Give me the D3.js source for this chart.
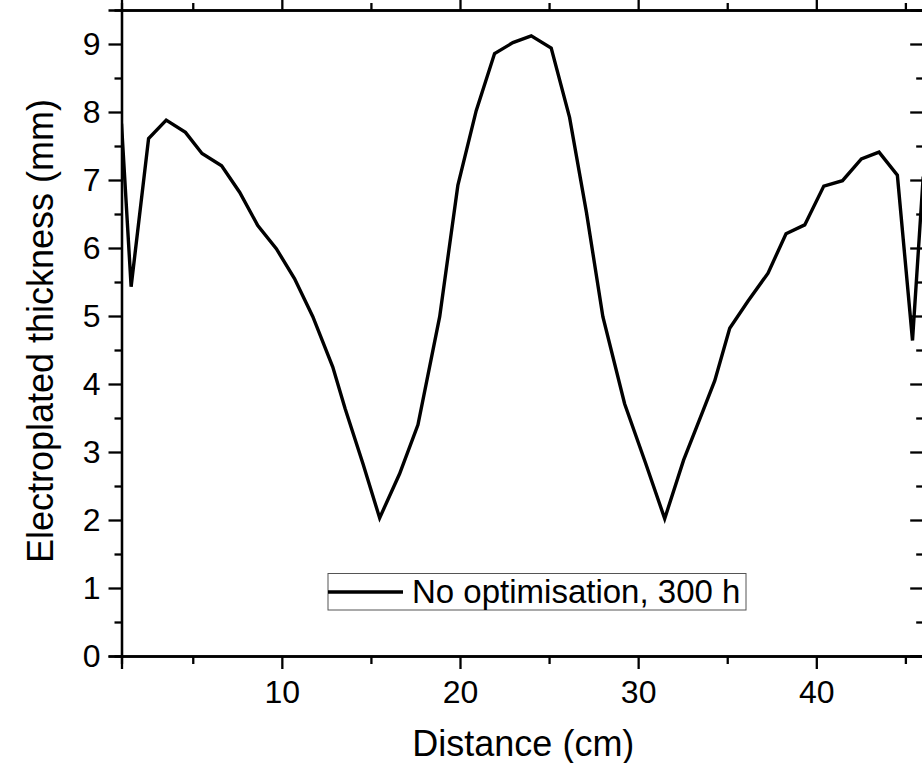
<!DOCTYPE html>
<html>
<head>
<meta charset="utf-8" />
<title></title>
<style>
html, body {
    margin: 0;
    padding: 0;
    background: #fff;
}
svg text {
    font-family: "Liberation Sans", Arial, sans-serif;
    fill: #000;
}
.axis path, .axis line {
    stroke: #000;
    stroke-width: 2.3;
}
</style>
</head>

<body>
<div id="chart"></div>
<script src="https://cdnjs.cloudflare.com/ajax/libs/d3/7.8.5/d3.min.js"></script>
<script>
// distance along the part (cm) and plated thickness (mm)
var distance = [1.0, 1.54, 2.52, 3.51, 4.59, 5.52, 6.62, 7.63, 8.65, 9.69,
    10.71, 11.74, 12.86, 13.55, 14.55, 15.49, 16.61, 17.64, 18.86, 19.88,
    20.91, 21.94, 22.97, 24.0, 25.12, 26.15, 27.1, 28.02, 29.24, 30.4,
    31.49, 32.55, 33.6, 34.3, 35.14, 36.17, 37.29, 38.3, 39.35, 40.42,
    41.47, 42.53, 43.52, 44.55, 45.4, 46.0]
var thickness = [7.83, 5.43, 7.61, 7.88, 7.70, 7.39, 7.21, 6.82, 6.33, 5.99,
    5.55, 4.99, 4.25, 3.64, 2.83, 2.03, 2.68, 3.40, 4.99, 6.92,
    8.02, 8.86, 9.02, 9.12, 8.94, 7.92, 6.52, 4.99, 3.71, 2.85,
    2.02, 2.88, 3.58, 4.05, 4.82, 5.22, 5.63, 6.21, 6.34, 6.91,
    6.99, 7.31, 7.41, 7.07, 4.64, 7.05]

var seriesName = "No optimisation, 300 h"
var xTitle = "Distance (cm)"
var yTitle = "Electroplated thickness (mm)"
var xMajor = [10, 20, 30, 40]
var xMinor = [5, 15, 25, 35, 45]
var yMajor = [0, 1, 2, 3, 4, 5, 6, 7, 8, 9]
var yMinor = [0.5, 1.5, 2.5, 3.5, 4.5, 5.5, 6.5, 7.5, 8.5]

drawChart()

function drawChart() {
    var width = 922, height = 763
    var pLeft = 121.5, pTop = 10, pBottom = 656, pRight = 923.2

    var svg = d3.select("#chart").append("svg")
        .attr("width", width)
        .attr("height", height)

    var x = d3.scaleLinear().domain([1, 46]).range([pLeft, pRight])
    var y = d3.scaleLinear().domain([0, 9.5]).range([pBottom, pTop])

    var data = distance.map(function(d, i) { return [d, thickness[i]] })

    svg.append("clipPath").attr("id", "plotClip")
        .append("rect")
        .attr("x", pLeft).attr("y", pTop)
        .attr("width", pRight - pLeft).attr("height", pBottom - pTop)

    var line = d3.line()
        .x(function(d) { return x(d[0]) })
        .y(function(d) { return y(d[1]) })

    svg.append("path")
        .datum(data)
        .attr("clip-path", "url(#plotClip)")
        .attr("d", line)
        .attr("fill", "none")
        .attr("stroke", "#000")
        .attr("stroke-width", 3.4)
        .attr("stroke-linejoin", "miter")

    // axes: bottom/left ticks out, top/right mirrored ticks pointing in
    function addAxis(axis, tx, ty) {
        var g = svg.append("g")
            .attr("class", "axis")
            .attr("transform", "translate(" + tx + "," + ty + ")")
            .call(axis)
        g.attr("font-size", null).attr("font-family", null)
        g.selectAll("text").style("font-size", "32px")
        return g
    }

    addAxis(d3.axisBottom(x).tickValues(xMajor).tickSize(13).tickPadding(11)
        .tickFormat(d3.format("d")), 0, pBottom)
    addAxis(d3.axisBottom(x).tickValues(xMinor).tickSize(8).tickFormat(""), 0, pBottom)
    addAxis(d3.axisBottom(x).tickValues(xMajor).tickSize(-13).tickFormat(""), 0, pTop)
    addAxis(d3.axisBottom(x).tickValues(xMinor).tickSize(-7).tickFormat(""), 0, pTop)

    addAxis(d3.axisLeft(y).tickValues(yMajor).tickSize(13).tickPadding(8)
        .tickFormat(d3.format("d")), pLeft, 0)
    addAxis(d3.axisLeft(y).tickValues(yMinor).tickSize(7).tickFormat(""), pLeft, 0)
    addAxis(d3.axisLeft(y).tickValues(yMajor).tickSize(13).tickFormat(""), pRight, 0)
    addAxis(d3.axisLeft(y).tickValues(yMinor).tickSize(7).tickFormat(""), pRight, 0)

    svg.selectAll(".axis path.domain").attr("stroke-width", 2.5)

    // axis titles
    svg.append("text")
        .attr("x", (pLeft + pRight) / 2 + 1)
        .attr("y", 756)
        .attr("text-anchor", "middle")
        .style("font-size", "36px")
        .text(xTitle)

    svg.append("text")
        .attr("transform", "translate(53," + ((pTop + pBottom) / 2 - 2) + ") rotate(-90)")
        .attr("text-anchor", "middle")
        .style("font-size", "36px")
        .text(yTitle)

    // legend
    var legend = svg.append("g").attr("transform", "translate(328,573.5)")
    legend.append("rect")
        .attr("width", 418)
        .attr("height", 36.5)
        .attr("fill", "#fff")
        .attr("stroke", "#555")
        .attr("stroke-width", 1)
    legend.append("line")
        .attr("x1", 0).attr("x2", 75)
        .attr("y1", 18.5).attr("y2", 18.5)
        .attr("stroke", "#000")
        .attr("stroke-width", 3.4)
    legend.append("text")
        .attr("x", 84)
        .attr("y", 29.5)
        .style("font-size", "33px")
        .text(seriesName)
}
</script>
</body>
</html>
